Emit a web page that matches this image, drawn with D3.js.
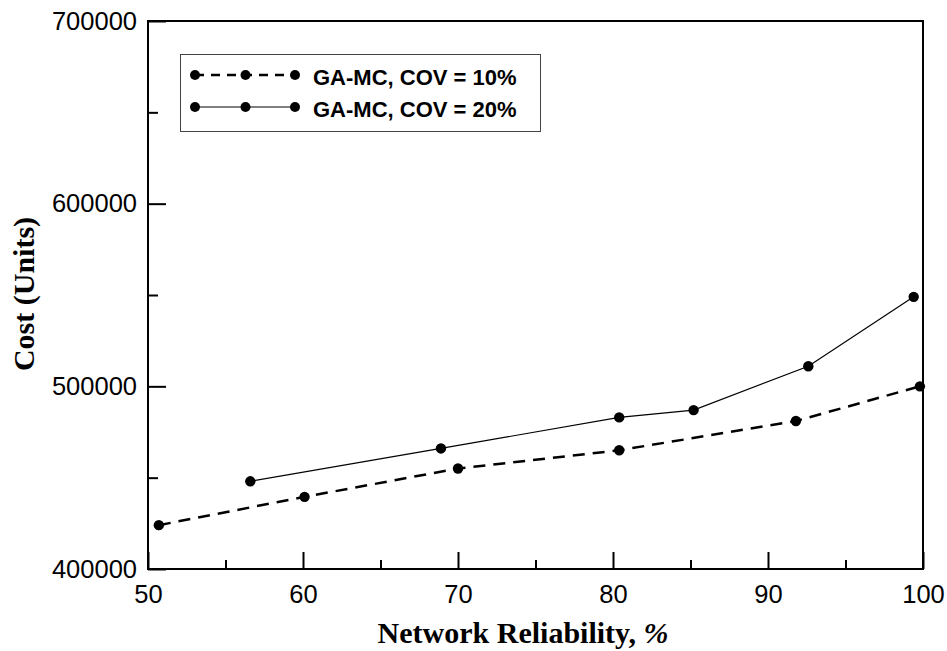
<!DOCTYPE html>
<html>
<head>
<meta charset="utf-8">
<script src="https://cdn.jsdelivr.net/npm/d3@7"></script>
<style>
  body { margin: 0; background: #fff; }
  svg { display: block; }
</style>
</head>
<body>
<svg id="chart" width="947" height="651"></svg>
<script>
// reliability (%) and cost for each run
const cov10Rel = [50.7, 60.1, 70.0, 80.4, 91.8, 99.8];
const cov10Cost = [424000, 439500, 455000, 465000, 481000, 500000];
const cov20Rel = [56.6, 68.9, 80.4, 85.2, 92.6, 99.4];
const cov20Cost = [448000, 466000, 483000, 487000, 511000, 549000];

const xMajor = [50, 60, 70, 80, 90, 100];
const xMinor = [55, 65, 75, 85, 95];
const yMajor = [400000, 500000, 600000, 700000];
const yMinor = [450000, 550000, 650000];

const seriesNames = ["GA-MC, COV = 10%", "GA-MC, COV = 20%"];

const svg = d3.select("#chart");
const margin = { top: 21, right: 24, bottom: 82, left: 148 };
const W = 947, H = 651;
const innerW = W - margin.left - margin.right;
const innerH = H - margin.top - margin.bottom;

const g = svg.append("g")
  .attr("transform", `translate(${margin.left},${margin.top})`);

const x = d3.scaleLinear().domain([50, 100]).range([0, innerW]);
const y = d3.scaleLinear().domain([400000, 700000]).range([innerH, 0]);

/* ---- axes: ticks point inward ---- */
g.append("g")
  .attr("transform", `translate(0,${innerH})`)
  .call(d3.axisBottom(x).tickValues(xMajor).tickSize(-17).tickPadding(16).tickFormat(d3.format("d")));
g.append("g")
  .attr("transform", `translate(0,${innerH})`)
  .call(d3.axisBottom(x).tickValues(xMinor).tickSize(-9).tickFormat(""));

g.append("g")
  .call(d3.axisLeft(y).tickValues(yMajor).tickSize(-18).tickPadding(11).tickFormat(d3.format("d")));
g.append("g")
  .call(d3.axisLeft(y).tickValues(yMinor).tickSize(-10).tickFormat(""));

g.selectAll(".domain").remove();
g.selectAll(".tick line").attr("stroke", "#000").attr("stroke-width", 2);
g.selectAll(".tick text")
  .attr("fill", "#000")
  .style("font-family", "'Liberation Sans', Arial, sans-serif")
  .style("font-size", "25.5px");

// frame
g.append("rect")
  .attr("width", innerW)
  .attr("height", innerH)
  .attr("fill", "none")
  .attr("stroke", "#000")
  .attr("stroke-width", 2);

/* ---- series ---- */
const line = d3.line().x(d => x(d[0])).y(d => y(d[1]));
const cov10 = cov10Rel.map((r, i) => [r, cov10Cost[i]]);
const cov20 = cov20Rel.map((r, i) => [r, cov20Cost[i]]);

g.append("path")
  .datum(cov10)
  .attr("d", line)
  .attr("fill", "none")
  .attr("stroke", "#000")
  .attr("stroke-width", 2.5)
  .attr("stroke-dasharray", "12,8");

g.append("path")
  .datum(cov20)
  .attr("d", line)
  .attr("fill", "none")
  .attr("stroke", "#000")
  .attr("stroke-width", 1.2);

[cov10, cov20].forEach(s => {
  g.selectAll(null)
    .data(s)
    .enter()
    .append("circle")
    .attr("cx", d => x(d[0]))
    .attr("cy", d => y(d[1]))
    .attr("r", 5.2)
    .attr("fill", "#000");
});

/* ---- axis titles ---- */
svg.append("text")
  .attr("x", 523)
  .attr("y", 643)
  .attr("text-anchor", "middle")
  .style("font-family", "'Liberation Serif', 'Times New Roman', serif")
  .style("font-weight", "bold")
  .style("font-size", "30px")
  .html("Network Reliability, <tspan font-style='italic'>%</tspan>");

svg.append("text")
  .attr("transform", "translate(34,294) rotate(-90)")
  .attr("text-anchor", "middle")
  .style("font-family", "'Liberation Serif', 'Times New Roman', serif")
  .style("font-weight", "bold")
  .style("font-size", "30px")
  .text("Cost (Units)");

/* ---- legend ---- */
const legend = svg.append("g");
legend.append("rect")
  .attr("x", 180.5).attr("y", 54.5)
  .attr("width", 360).attr("height", 77)
  .attr("fill", "#fff")
  .attr("stroke", "#444")
  .attr("stroke-width", 1);

const rows = [
  { name: seriesNames[0], dash: "9,7", width: 2.5, cy: 75 },
  { name: seriesNames[1], dash: null, width: 1.2, cy: 107 }
];
const legendMarks = [195, 245.5, 295];

rows.forEach(r => {
  legend.append("line")
    .attr("x1", legendMarks[0]).attr("x2", legendMarks[2])
    .attr("y1", r.cy).attr("y2", r.cy)
    .attr("stroke", "#000")
    .attr("stroke-width", r.width)
    .attr("stroke-dasharray", r.dash);
  legendMarks.forEach(mx =>
    legend.append("circle").attr("cx", mx).attr("cy", r.cy).attr("r", 5).attr("fill", "#000")
  );
  legend.append("text")
    .attr("x", 313)
    .attr("y", r.cy + 10)
    .style("font-family", "'Liberation Sans', Arial, sans-serif")
    .style("font-weight", "bold")
    .style("font-size", "22px")
    .text(r.name);
});
</script>
</body>
</html>
